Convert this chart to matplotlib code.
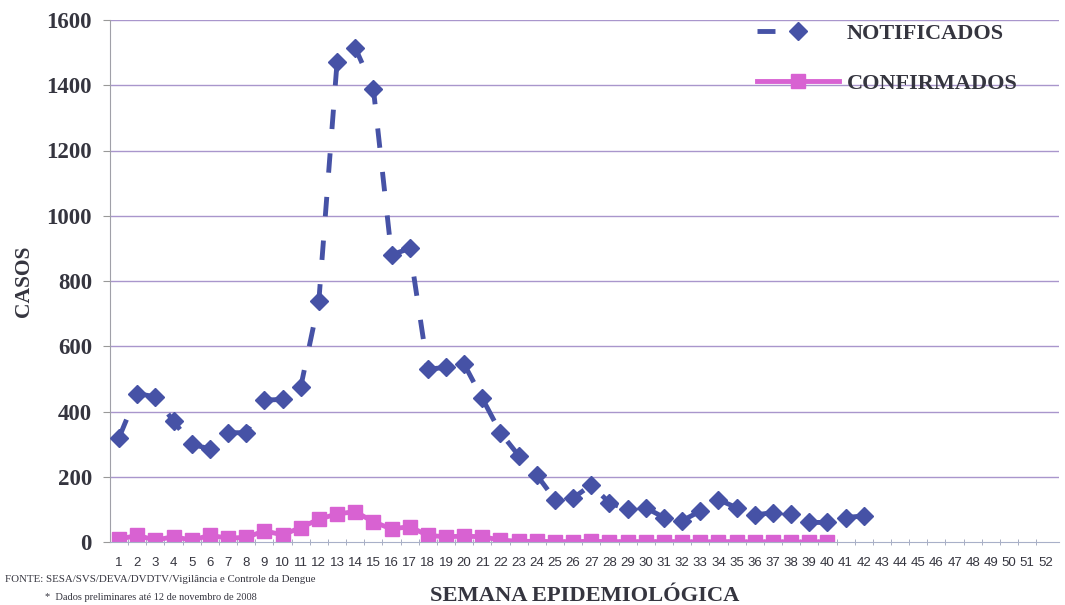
import matplotlib
matplotlib.use("Agg")
import matplotlib.pyplot as plt
from matplotlib.lines import Line2D

weeks = list(range(1, 53))
notif_weeks = list(range(1, 43))
notificados = [320, 455, 445, 370, 300, 285, 335, 335, 435, 437, 475, 740,
               1470, 1515, 1390, 880, 900, 530, 535, 545, 440, 335, 265, 205,
               130, 135, 175, 120, 100, 105, 75, 65, 95, 130, 105, 83, 90, 85,
               60, 60, 75, 80]
conf_weeks = list(range(1, 41))
confirmados = [9, 20, 6, 16, 6, 20, 12, 14, 34, 22, 44, 70, 86, 93, 62, 40,
               47, 20, 16, 18, 16, 6, 2, 2, 1, 1, 2, 1, 1, 1, 1, 1, 0, 1, 1,
               0, 1, 0, 0, 1]
yticks = [0, 200, 400, 600, 800, 1000, 1200, 1400, 1600]

NAVY = "#4652a6"
PINK = "#d862d2"
TXT = "#35353f"
SERIF = ["Liberation Serif", "DejaVu Serif"]

fig = plt.figure(figsize=(10.65, 6.05), dpi=100)
ax = fig.add_axes([110/1065, 63/605, 949/1065, 522/605])

for y in yticks[1:]:
    ax.axhline(y, color="#a996cc", lw=1.0, zorder=0)

ax.plot(notif_weeks, notificados, color=NAVY, lw=3.5, dashes=(4, 5),
        marker="D", ms=9.5, mec=NAVY, mfc=NAVY, zorder=3)
ax.plot(conf_weeks, confirmados, color=PINK, lw=3.5,
        marker="s", ms=10, mec=PINK, mfc=PINK, zorder=2)

ax.set_xlim(0.5, 52.75)
ax.set_ylim(0, 1600)
ax.set_yticks(yticks)
ax.set_yticklabels([str(v) for v in yticks], fontfamily=SERIF,
                   fontweight="bold", fontsize=16.5, color=TXT)
ax.set_xticks(weeks)
ax.set_xticklabels([str(w) for w in weeks], fontfamily="Liberation Sans",
                   fontsize=9.5, color=TXT)
ax.set_xticks([w + 0.5 for w in weeks[:-1]], minor=True)
ax.tick_params(axis="x", which="major", length=0, pad=11)
ax.tick_params(axis="x", which="minor", length=4, direction="inout",
               color="#9aa0b8")
ax.tick_params(axis="y", length=5, color="#999999", pad=8)

for s in ["top", "right"]:
    ax.spines[s].set_visible(False)
ax.spines["left"].set_color("#a0a0a8")
ax.spines["bottom"].set_color("#a8b0c8")

ax.set_ylabel("CASOS", fontfamily=SERIF, fontweight="bold", fontsize=15.5,
              color=TXT)
ax.yaxis.set_label_coords(-76/949, 0.5)
ax.set_xlabel("SEMANA EPIDEMIOLÓGICA", fontfamily=SERIF, fontweight="bold",
              fontsize=16.2, color=TXT, labelpad=12)

h1 = Line2D([], [], color=NAVY, lw=3.5, dashes=(3.7, 14.4), marker="D",
            ms=9.5, mfc=NAVY, mec=NAVY)
h2 = Line2D([], [], color=PINK, lw=3.5, marker="s", ms=10, mfc=PINK,
            mec=PINK)
leg = fig.legend([h1, h2], ["NOTIFICADOS", "CONFIRMADOS"], loc="upper left",
                 bbox_to_anchor=(757/1065, 1 - 23/605), frameon=False,
                 handlelength=3.7, handletextpad=0.35, labelspacing=1.35,
                 borderpad=0, borderaxespad=0,
                 prop={"family": SERIF, "weight": "bold", "size": 16})
for t in leg.get_texts():
    t.set_color(TXT)

fig.text(5/1065, 1 - 580/605, "FONTE: SESA/SVS/DEVA/DVDTV/Vigilância e Controle da Dengue",
         fontfamily=SERIF, fontsize=7.8, color=TXT, va="center", ha="left")
fig.text(45/1065, 1 - 597/605, "*  Dados preliminares até 12 de novembro de 2008",
         fontfamily=SERIF, fontsize=7.5, color=TXT, va="center", ha="left")

fig.savefig("out.png", dpi=100)
